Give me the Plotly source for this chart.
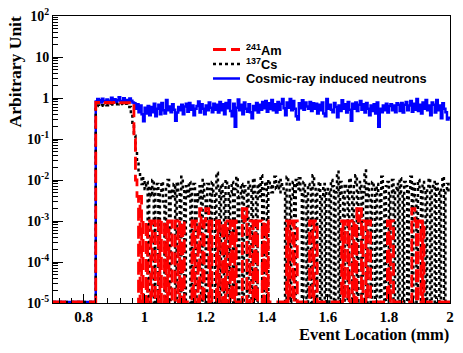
import plotly.graph_objects as go

# histogram binning (mm): bins of 0.005 starting at 0.84
BIN_START = 0.84
BIN_WIDTH = 0.005
X_MIN, X_MAX = 0.7, 2.0

am241 = [
    0.78, 0.77, 0.78, 0.76, 0.77, 0.78, 0.77, 0.76, 0.78, 0.77, 0.76, 0.77, 0.78, 0.77, 0.76, 0.77, 0.76, 0.77, 0.76, 0.77,
    0.76, 0.77, 0.76, 0.75, 0.76, 0.1, 0.01, 0.004, 0, 0.004, 0, 0.001, 0.001, 0, 0.001, 0.001, 0, 0.001, 0.001, 0,
    0, 0.001, 0, 0.001, 0.001, 0, 0.001, 0, 0.001, 0.001, 0, 0, 0.001, 0.001, 0, 0.001, 0, 0.001, 0, 0,
    0, 0, 0, 0.001, 0, 0.001, 0.001, 0, 0.002, 0.001, 0, 0.001, 0.002, 0.002, 0, 0.001, 0, 0, 0, 0.001,
    0, 0.001, 0.001, 0, 0.001, 0, 0.001, 0.001, 0, 0.001, 0, 0.001, 0, 0, 0, 0, 0.002, 0.001, 0.002, 0,
    0, 0.001, 0.001, 0, 0.001, 0, 0.001, 0.001, 0.001, 0, 0.001, 0, 0.001, 0, 0, 0, 0, 0, 0, 0,
    0, 0, 0, 0, 0, 0.001, 0, 0.001, 0.001, 0, 0.001, 0.001, 0, 0, 0, 0, 0, 0, 0, 0,
    0.001, 0.001, 0, 0.001, 0.001, 0, 0, 0, 0, 0, 0, 0, 0, 0, 0, 0, 0, 0, 0, 0,
    0, 0.001, 0, 0.001, 0.001, 0, 0.001, 0.001, 0, 0.001, 0, 0.002, 0.001, 0.002, 0, 0.001, 0.001, 0, 0.001, 0.001,
    0, 0, 0, 0, 0, 0, 0, 0, 0, 0, 0, 0.001, 0, 0.001, 0.001, 0, 0, 0, 0, 0,
    0, 0, 0, 0, 0, 0, 0, 0.002, 0.002, 0.001, 0, 0.001, 0.001, 0, 0.001, 0, 0, 0, 0, 0,
    0, 0, 0, 0, 0, 0, 0, 0, 0, 0, 0, 0,
]

cs137 = [
    0.62, 0.66, 0.64, 0.65, 0.67, 0.66, 0.68, 0.67, 0.69, 0.68, 0.7, 0.69, 0.7, 0.71, 0.7, 0.72, 0.71, 0.72, 0.7, 0.73,
    0.72, 0.7, 0.6, 0.4, 0.25, 0.12, 0.05, 0.025, 0.015, 0.012, 0.008, 0.011, 0.006, 0.009, 0, 0.007, 0.004, 0.01, 0, 0.006,
    0.008, 0, 0.005, 0.009, 0.003, 0, 0.007, 0.01, 0, 0.006, 0.004, 0.008, 0, 0.009, 0.005, 0, 0.012, 0.006, 0, 0.007,
    0.004, 0.009, 0, 0.006, 0.008, 0, 0.005, 0.003, 0.007, 0, 0.01, 0.004, 0, 0.008, 0.006, 0, 0.009, 0.005, 0, 0.015,
    0.006, 0, 0.008, 0.004, 0, 0.01, 0.007, 0, 0.005, 0.009, 0, 0.006, 0.012, 0, 0.004, 0.008, 0, 0.007, 0.005, 0,
    0.009, 0.006, 0, 0.011, 0.005, 0, 0.008, 0.004, 0.013, 0, 0.006, 0.009, 0, 0.01, 0.007, 0.005, 0.008, 0.012, 0.006, 0.009,
    0.005, 0.01, 0.007, 0.006, 0, 0.012, 0.008, 0, 0.004, 0.009, 0, 0.01, 0.006, 0.011, 0.005, 0, 0.009, 0.004, 0, 0.008,
    0.006, 0, 0.013, 0.007, 0, 0.005, 0.009, 0, 0.004, 0.008, 0, 0.006, 0.005, 0, 0.01, 0.007, 0, 0.005, 0.016, 0,
    0.009, 0.004, 0, 0.008, 0.006, 0, 0.011, 0.005, 0, 0.007, 0.013, 0, 0.006, 0.009, 0, 0.005, 0.017, 0, 0.008, 0.004,
    0, 0.009, 0.006, 0, 0.008, 0.005, 0, 0.012, 0.006, 0, 0.007, 0.009, 0, 0.005, 0.01, 0, 0.006, 0.008, 0, 0.011,
    0.005, 0, 0.009, 0.007, 0, 0.006, 0.012, 0, 0.008, 0.004, 0, 0.01, 0.006, 0, 0.009, 0.005, 0, 0.007, 0.011, 0,
    0.006, 0.009, 0, 0.008, 0.005, 0, 0.007, 0.012, 0, 0.006, 0.008, 0.005,
]

cosmic = [
    0.82, 0.95, 0.88, 0.78, 0.96, 0.85, 0.8, 0.92, 0.76, 0.86, 1.02, 0.82, 0.93, 0.79, 0.88, 1.05, 0.84, 0.77, 0.98, 0.83,
    0.9, 0.8, 0.97, 0.86, 0.78, 0.74, 0.55, 0.7, 0.45, 0.66, 0.4, 0.27, 0.58, 0.42, 0.64, 0.38, 0.6, 0.45, 0.72, 0.36,
    0.55, 0.68, 0.4, 0.75, 0.5, 0.42, 0.9, 0.5, 0.62, 0.45, 0.7, 0.52, 0.28, 0.44, 0.6, 0.5, 0.68, 0.4, 0.62, 0.72,
    0.46, 0.76, 0.52, 0.66, 0.38, 0.55, 0.64, 0.82, 0.44, 0.7, 0.55, 0.4, 0.66, 0.5, 0.78, 0.58, 0.45, 0.72, 0.52, 0.68,
    0.44, 0.8, 0.5, 0.7, 0.4, 0.76, 0.56, 0.88, 0.48, 0.36, 0.72, 0.2, 0.58, 0.92, 0.5, 0.68, 0.4, 0.78, 0.55, 0.46,
    0.7, 0.45, 0.32, 0.64, 0.5, 0.76, 0.44, 0.68, 0.52, 0.8, 0.56, 0.84, 0.46, 0.74, 0.54, 0.9, 0.5, 0.7, 0.44, 0.8,
    0.52, 0.72, 0.95, 0.56, 0.38, 0.78, 0.58, 0.95, 0.5, 0.84, 0.55, 0.36, 0.3, 0.74, 0.56, 0.88, 0.52, 0.78, 0.62, 0.55,
    0.8, 0.48, 0.74, 0.55, 0.72, 0.42, 0.68, 0.5, 0.78, 0.42, 0.36, 0.95, 0.55, 0.68, 0.52, 0.45, 0.76, 0.6, 0.34, 0.66,
    0.48, 0.88, 0.55, 0.7, 0.44, 0.8, 0.52, 0.28, 0.72, 0.55, 0.78, 0.48, 0.68, 0.84, 0.52, 0.7, 0.44, 0.76, 0.55, 0.38,
    0.66, 0.48, 0.7, 0.42, 0.78, 0.2, 0.55, 0.45, 0.66, 0.5, 0.72, 0.44, 0.64, 0.7, 0.5, 0.66, 0.45, 0.74, 0.68, 0.48,
    0.76, 0.44, 0.68, 0.8, 0.5, 0.66, 0.84, 0.46, 0.72, 0.52, 0.95, 0.48, 0.68, 0.42, 0.78, 0.55, 0.9, 0.5, 0.66, 0.38,
    0.78, 0.68, 0.44, 0.9, 0.5, 0.66, 0.32, 0.74, 0.55, 0.45, 0.3, 0.33,
]

y_tick_vals = [1e-5, 1e-4, 1e-3, 1e-2, 1e-1, 1, 10, 100]
y_tick_text = ['10<sup>-5</sup>', '10<sup>-4</sup>', '10<sup>-3</sup>', '10<sup>-2</sup>',
               '10<sup>-1</sup>', '1', '10', '10<sup>2</sup>']

FLOOR = 1.06e-5  # empty bins are drawn on the bottom of the frame, like ROOT
SERIF = 'Liberation Serif'
SANS = 'Liberation Sans'

# frame in pixels, used to place the hand-made legend and titles
W, H = 463, 353
L, R, T, B = 53, 13, 16, 50
PW, PH = W - L - R, H - T - B


def px(xp):
    return (xp - L) / PW


def py(yp):
    return (H - B - yp) / PH


def hist_xy(vals):
    xs = [X_MIN] + [round(BIN_START + i * BIN_WIDTH, 4) for i in range(len(vals))]
    xs.append(round(BIN_START + len(vals) * BIN_WIDTH, 4))
    ys = [FLOOR] + [max(v, FLOOR) for v in vals] + [max(vals[-1], FLOOR)]
    return xs, ys


series = [
    ('Cosmic-ray induced neutrons', cosmic, dict(color='#0000ff', width=2.5)),
    ('<sup>137</sup>Cs', cs137, dict(color='black', width=2.5, dash='3px,3px')),
    ('<sup>241</sup>Am', am241, dict(color='#ff0000', width=2.8, dash='13px,5px')),
]

fig = go.Figure()
for name, vals, line in series:
    x, y = hist_xy(vals)
    fig.add_trace(go.Scatter(x=x, y=y, mode='lines', line_shape='hv', name=name, line=line,
                             showlegend=False, hoverinfo='skip'))

# legend drawn by hand so the rows sit as tight as in ROOT
legend_rows = [(series[2], 49.5), (series[1], 64), (series[0], 78.5)]
for (name, _, line), yrow in legend_rows:
    fig.add_shape(type='line', xref='paper', yref='paper', x0=px(213), x1=px(240),
                  y0=py(yrow), y1=py(yrow), line=line)
    fig.add_annotation(text=name, xref='paper', yref='paper', x=px(244), y=py(yrow),
                       xanchor='left', yanchor='middle', showarrow=False,
                       font=dict(family=SANS, size=12.8, color='black', weight='bold'))

minor_y = [k * 10 ** e for e in range(-5, 2) for k in range(2, 10)]

fig.update_xaxes(range=[X_MIN, X_MAX], showline=True, linecolor='black', linewidth=1, mirror=True,
                 ticks='inside', ticklen=9, tickcolor='black', tickvals=[0.8, 1, 1.2, 1.4, 1.6, 1.8, 2],
                 ticktext=['0.8', '1', '1.2', '1.4', '1.6', '1.8', '2'],
                 tickfont=dict(family=SERIF, size=15, color='black', weight='bold'),
                 minor=dict(ticks='inside', ticklen=5, tickcolor='black', dtick=0.04, tick0=0.8),
                 showgrid=False, zeroline=False, automargin=False)
fig.update_yaxes(type='log', range=[-5, 2], showline=True, linecolor='black', linewidth=1, mirror=True,
                 ticks='inside', ticklen=10, tickcolor='black', tickvals=y_tick_vals, ticktext=y_tick_text,
                 tickfont=dict(family=SERIF, size=14, color='black', weight='bold'),
                 minor=dict(ticks='inside', ticklen=5, tickcolor='black', tickvals=minor_y),
                 showgrid=False, zeroline=False, automargin=False)

fig.add_annotation(text='Event Location (mm)', xref='paper', yref='paper', x=px(451), y=py(334),
                   xanchor='right', yanchor='middle', showarrow=False,
                   font=dict(family=SERIF, size=16.5, color='black', weight='bold'))
fig.add_annotation(text='Arbitrary Unit', xref='paper', yref='paper', x=px(14), y=py(15),
                   xanchor='center', yanchor='top', textangle=-90, showarrow=False,
                   font=dict(family=SERIF, size=17.5, color='black', weight='bold'))

fig.update_layout(
    width=W, height=H,
    margin=dict(l=L, r=R, t=T, b=B),
    paper_bgcolor='white', plot_bgcolor='white',
    showlegend=False,
)

# the page's default body margin would push the figure off the 463x353 window
fig.write_html("out.html", config={'displayModeBar': False},
               post_script="document.body.style.margin='0';")
